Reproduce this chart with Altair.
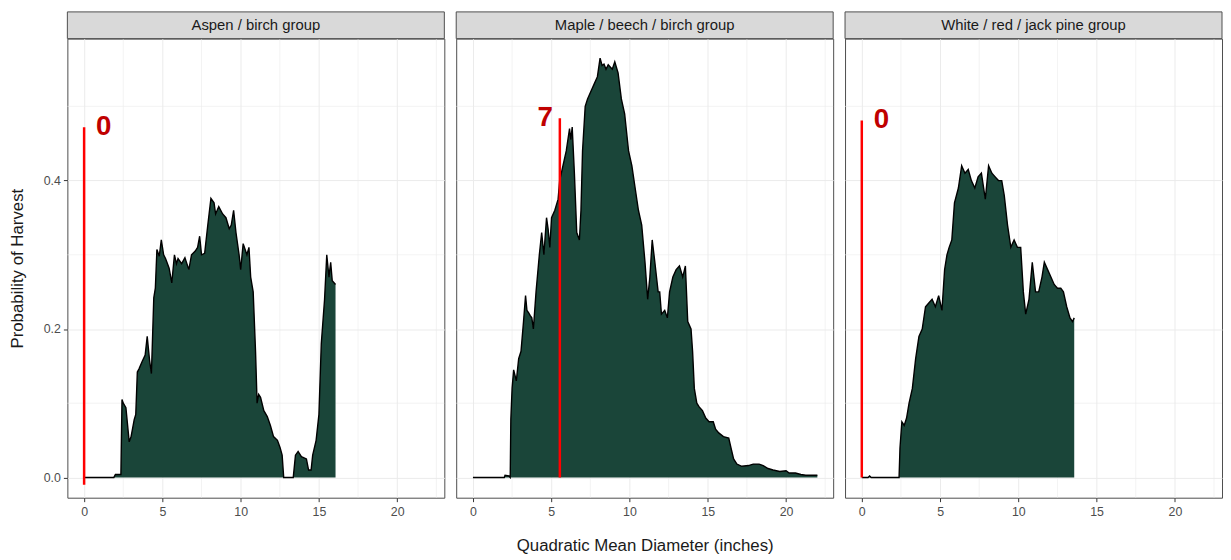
import altair as alt
import pandas as pd

groups = ["Aspen / birch group", "Maple / beech / birch group", "White / red / jack pine group"]

# probability of harvest, by QMD (inches)
aspen_qmd = [0, 1.9, 2.0, 2.35, 2.42, 2.5, 2.67, 2.88, 3.0, 3.2, 3.3, 3.4, 3.5, 3.7, 3.9,
             4.03, 4.18, 4.3, 4.45, 4.55, 4.65, 4.8, 4.93, 5.08, 5.2, 5.29, 5.43, 5.6, 5.77,
             5.9, 6.0, 6.23, 6.44, 6.69, 6.86, 7.1, 7.25, 7.38, 7.5, 7.7, 7.9, 8.1, 8.3, 8.4,
             8.6, 8.85, 9.06, 9.27, 9.4, 9.55, 9.7, 9.9, 10.0, 10.16, 10.4, 10.53, 10.64,
             10.8, 10.95, 11.05, 11.15, 11.27, 11.48, 11.7, 11.9, 12.1, 12.35, 12.52, 12.65,
             12.75, 13.36, 13.5, 13.67, 13.88, 14.2, 14.34, 14.5, 14.6, 14.82, 15.0, 15.15,
             15.36, 15.5, 15.64, 15.75, 15.85, 16.06]
aspen_prob = [0, 0, 0.004, 0.004, 0.105, 0.1, 0.094, 0.048, 0.055, 0.078, 0.085, 0.142,
              0.146, 0.156, 0.165, 0.19, 0.158, 0.14, 0.242, 0.255, 0.307, 0.298, 0.32, 0.3,
              0.295, 0.29, 0.282, 0.262, 0.3, 0.288, 0.295, 0.288, 0.296, 0.28, 0.3, 0.305,
              0.31, 0.325, 0.3, 0.302, 0.34, 0.376, 0.37, 0.355, 0.365, 0.355, 0.35, 0.335,
              0.34, 0.36, 0.33, 0.3, 0.28, 0.315, 0.3, 0.31, 0.27, 0.25, 0.17, 0.1, 0.112,
              0.108, 0.09, 0.082, 0.07, 0.055, 0.05, 0.04, 0.03, 0.0, 0.0, 0.03, 0.035, 0.028,
              0.025, 0.01, 0.01, 0.03, 0.05, 0.085, 0.18, 0.24, 0.3, 0.27, 0.29, 0.265, 0.26]

maple_qmd = [0, 2.0, 2.05, 2.3, 2.38, 2.42, 2.5, 2.6, 2.77, 2.92, 3.07, 3.23, 3.36, 3.45,
             3.55, 3.66, 3.76, 3.86, 4.03, 4.24, 4.39, 4.53, 4.7, 4.8, 4.91, 5.02, 5.23, 5.44,
             5.54, 5.75, 5.96, 6.17, 6.25, 6.34, 6.48, 6.63, 6.8, 6.9, 7.0, 7.17, 7.32, 7.53,
             7.74, 7.95, 8.12, 8.25, 8.37, 8.5, 8.64, 8.9, 9.06, 9.27, 9.48, 9.69, 9.94, 10.15,
             10.36, 10.57, 10.78, 10.99, 11.16, 11.3, 11.45, 11.62, 11.83, 11.93, 12.04, 12.25,
             12.42, 12.56, 12.77, 12.98, 13.19, 13.4, 13.57, 13.72, 13.93, 14.03, 14.14, 14.3,
             14.45, 14.66, 14.87, 15.08, 15.35, 15.5, 15.7, 16.0, 16.34, 16.48, 16.65, 16.86,
             17.17, 17.6, 17.9, 18.28, 18.54, 18.85, 19.17, 19.6, 20.0, 20.2, 20.6, 20.95,
             21.26, 22.0]
maple_prob = [0, 0, 0.003, 0.002, 0.0, 0.078, 0.12, 0.145, 0.13, 0.16, 0.17, 0.21, 0.245,
              0.225, 0.222, 0.218, 0.215, 0.2, 0.25, 0.3, 0.33, 0.3, 0.35, 0.335, 0.31, 0.35,
              0.36, 0.375, 0.4, 0.42, 0.44, 0.47, 0.455, 0.472, 0.41, 0.33, 0.32, 0.36, 0.44,
              0.5, 0.51, 0.52, 0.53, 0.54, 0.565, 0.555, 0.557, 0.55, 0.556, 0.55, 0.56, 0.545,
              0.51, 0.49, 0.44, 0.42, 0.39, 0.36, 0.34, 0.29, 0.24, 0.27, 0.32, 0.29, 0.25,
              0.25, 0.22, 0.225, 0.215, 0.25, 0.27, 0.28, 0.285, 0.27, 0.285, 0.21, 0.2, 0.17,
              0.12, 0.1, 0.095, 0.09, 0.08, 0.075, 0.075, 0.065, 0.06, 0.055, 0.053, 0.04,
              0.025, 0.018, 0.015, 0.016, 0.018, 0.018, 0.016, 0.012, 0.01, 0.008, 0.009,
              0.006, 0.006, 0.004, 0.003, 0.003]

pine_qmd = [0, 0.4, 0.5, 0.6, 2.38, 2.44, 2.56, 2.71, 2.86, 3.02, 3.23, 3.44, 3.65, 3.86,
            4.07, 4.28, 4.49, 4.7, 4.91, 5.12, 5.29, 5.44, 5.58, 5.75, 5.92, 6.17, 6.38, 6.59,
            6.8, 7.0, 7.22, 7.43, 7.64, 7.89, 8.1, 8.31, 8.52, 8.73, 8.94, 9.1, 9.31, 9.52,
            9.73, 9.94, 10.15, 10.32, 10.47, 10.68, 10.89, 11.1, 11.3, 11.51, 11.66, 11.87,
            12.08, 12.29, 12.5, 12.71, 12.88, 13.09, 13.3, 13.46, 13.57]
pine_prob = [0, 0, 0.002, 0, 0, 0.04, 0.075, 0.07, 0.08, 0.1, 0.12, 0.16, 0.19, 0.2, 0.23,
             0.235, 0.24, 0.23, 0.245, 0.225, 0.28, 0.3, 0.31, 0.32, 0.37, 0.39, 0.42, 0.41,
             0.415, 0.4, 0.39, 0.405, 0.41, 0.375, 0.42, 0.41, 0.405, 0.4, 0.4, 0.38, 0.34,
             0.31, 0.32, 0.31, 0.31, 0.25, 0.22, 0.24, 0.29, 0.25, 0.25, 0.27, 0.29, 0.28,
             0.27, 0.26, 0.255, 0.255, 0.25, 0.23, 0.215, 0.21, 0.215]

# red marker line and its label in each panel
marker_qmd = [0, 5.55, 0]
marker_label = ["0", "7", "0"]
marker_lo = [-0.01, 0, 0]
marker_hi = [0.472, 0.484, 0.481]

x_major = [0, 5, 10, 15, 20]
x_minor = [2.5, 7.5, 12.5, 17.5, 22.5]
y_major = [0, 0.2, 0.4]
y_minor = [0.1, 0.3, 0.5]

W, H, STRIP = 381, 464, 27
FONT = "Liberation Sans"
FILL = "#1a4539"
GRID = "#ebebeb"

xscale = alt.Scale(domain=[-1.07, 23.01], nice=False, zero=False)
yscale = alt.Scale(domain=[-0.0273, 0.5913], nice=False, zero=False)


def panel(i, qmd, prob):
    first = i == 0
    middle = i == 1
    df = pd.DataFrame({"qmd": qmd, "prob": prob})

    if first:
        yaxis = alt.Axis(values=y_major, format=".1f", title="Probability of Harvest",
                         labelPadding=3, titlePadding=17)
    else:
        yaxis = alt.Axis(values=y_major, labels=False, ticks=False, title=None)
    if middle:
        xaxis = alt.Axis(values=x_major, format="d", title="Quadratic Mean Diameter (inches)",
                         labelPadding=4, titlePadding=20)
    else:
        xaxis = alt.Axis(values=x_major, format="d", title=None, labelPadding=4)

    vgrid = alt.Chart(pd.DataFrame({"v": x_minor})).mark_rule(
        color=GRID, strokeWidth=0.6
    ).encode(x=alt.X("v:Q", scale=xscale, axis=xaxis), y=alt.value(0), y2=alt.value(H))

    hgrid = alt.Chart(pd.DataFrame({"v": y_minor})).mark_rule(
        color=GRID, strokeWidth=0.6
    ).encode(y=alt.Y("v:Q", scale=yscale, axis=yaxis), x=alt.value(0), x2=alt.value(W))

    area = alt.Chart(df).mark_area(
        color=FILL, opacity=1, line={"color": "black", "strokeWidth": 1.4}
    ).encode(
        x=alt.X("qmd:Q", scale=xscale),
        y=alt.Y("prob:Q", scale=yscale),
    )

    mk = pd.DataFrame({"q": [marker_qmd[i]], "lo": [marker_lo[i]], "hi": [marker_hi[i]],
                       "lab": [marker_label[i]]})
    rule = alt.Chart(mk).mark_rule(color="#ff0000", strokeWidth=2.5).encode(
        x=alt.X("q:Q", scale=xscale), y=alt.Y("lo:Q", scale=yscale), y2="hi:Q"
    )
    label = alt.Chart(mk).mark_text(
        font=FONT, fontSize=28, fontWeight="bold", color="#c00000", baseline="middle",
        align="right" if marker_qmd[i] > 0 else "left",
        dx=-7 if marker_qmd[i] > 0 else 12,
    ).encode(x=alt.X("q:Q", scale=xscale), y=alt.Y("hi:Q", scale=yscale), text="lab:N")

    st = pd.DataFrame({"g": [groups[i]]})
    strip_bg = alt.Chart(st).mark_rect(fill="#d9d9d9", stroke="#4d4d4d", strokeWidth=1).encode(
        x=alt.value(0), x2=alt.value(W), y=alt.value(-STRIP), y2=alt.value(0)
    )
    strip_txt = alt.Chart(st).mark_text(font=FONT, fontSize=15, color="#1a1a1a",
                                        baseline="middle").encode(
        x=alt.value(W / 2), y=alt.value(-STRIP / 2), text="g:N"
    )

    return alt.layer(vgrid, hgrid, area, rule, label, strip_bg, strip_txt).properties(
        width=W, height=H
    )


panels = [panel(0, aspen_qmd, aspen_prob), panel(1, maple_qmd, maple_prob),
          panel(2, pine_qmd, pine_prob)]

chart = alt.hconcat(*panels, spacing=10).properties(
    padding={"left": 0, "top": 0, "right": 0, "bottom": 0}, background="white"
).configure_axis(
    labelFont=FONT, titleFont=FONT, labelFontSize=12.5, labelColor="#4d4d4d",
    tickColor="#333333", tickSize=4, domain=False, gridColor=GRID, gridWidth=1,
    titleFontSize=17, titleColor="#1a1a1a", titleFontWeight="normal",
).configure_view(stroke="#4d4d4d", strokeWidth=1)

chart.save("out.html", embed_options={"renderer": "svg", "actions": False})
